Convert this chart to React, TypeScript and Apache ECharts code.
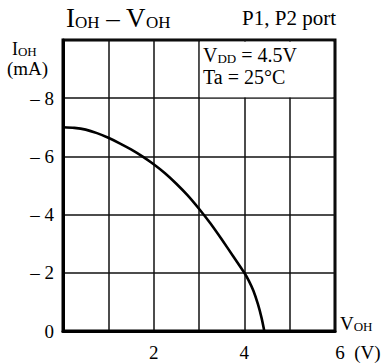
import React, { useEffect, useRef } from 'react';
import * as echarts from 'echarts';

const vohValues = [0, 0.25, 0.5, 0.75, 1, 1.25, 1.5, 1.75, 2, 2.25, 2.5, 2.75, 3, 3.25, 3.5, 3.75, 4, 4.1, 4.2, 4.3, 4.38, 4.44];
const iohValues = [-7.0, -6.98, -6.92, -6.8, -6.64, -6.45, -6.24, -6.0, -5.73, -5.42, -5.06, -4.66, -4.2, -3.7, -3.15, -2.58, -2.0, -1.72, -1.38, -0.92, -0.45, 0];
const xTickLabels: Record<number, string> = { 2: '2', 4: '4', 6: '6  (V)' };
const yTickLabels: Record<number, string> = { 0: '0', [-2]: '– 2', [-4]: '– 4', [-6]: '– 6', [-8]: '– 8' };
const boxFrom = [3.02, -9.94];
const boxTo = [5.95, -8.03];
const titleMain = ['I', 'OH', ' – V', 'OH'];
const subtitle = 'P1, P2 port';
const condLines = ['V', 'DD', ' = 4.5V', 'Ta = 25°C'];

const FONT = '"Liberation Serif", "DejaVu Serif", serif';

export default function App() {
  const ref = useRef<HTMLDivElement>(null);
  useEffect(() => {
    if (!ref.current) return;
    const chart = echarts.init(ref.current, undefined, { renderer: 'svg' });
    const sub = (big: number, small: number) => ({
      b: { fontSize: big, fontFamily: FONT, color: '#000', verticalAlign: 'bottom', lineHeight: big },
      s: { fontSize: small, fontFamily: FONT, color: '#000', verticalAlign: 'bottom', lineHeight: big },
    });
    chart.setOption({
      animation: false,
      backgroundColor: '#fff',
      grid: { left: 63, right: 49, top: 40, bottom: 33, show: true, borderColor: '#000', borderWidth: 3 },
      xAxis: {
        type: 'value', min: 0, max: 6, interval: 1,
        axisLine: { show: true, lineStyle: { color: '#000', width: 3 } },
        axisTick: { show: false },
        splitLine: { show: true, lineStyle: { color: '#111', width: 1.5 } },
        axisLabel: {
          margin: 12, fontSize: 19, color: '#000', fontFamily: FONT,
          formatter: (v: number) => (v === 6 ? '{r|' + xTickLabels[6] + '}' : (xTickLabels[v] ?? '')),
          rich: { r: { fontSize: 19, fontFamily: FONT, color: '#000', padding: [0, 0, 0, 46] } },
        },
      },
      yAxis: {
        type: 'value', inverse: true, min: -10, max: 0, interval: 2,
        axisLine: { show: true, lineStyle: { color: '#000', width: 3 } },
        axisTick: { show: false },
        splitLine: { show: true, lineStyle: { color: '#111', width: 1.5 } },
        axisLabel: {
          margin: 9, fontSize: 19, color: '#000', fontFamily: FONT,
          formatter: (v: number) => yTickLabels[v] ?? '',
        },
      },
      series: [
        {
          type: 'line',
          data: vohValues.map((x, i) => [x, iohValues[i]]),
          smooth: 0.25,
          symbol: 'none',
          lineStyle: { color: '#000', width: 2.6 },
          markArea: {
            silent: true,
            itemStyle: { color: '#fff' },
            label: { show: false },
            data: [[{ xAxis: boxFrom[0], yAxis: boxFrom[1] }, { xAxis: boxTo[0], yAxis: boxTo[1] }]],
          },
        },
      ],
      graphic: [
        {
          type: 'text', left: 66, top: 4, z: 100,
          style: { text: `{b|${titleMain[0]}}{s|${titleMain[1]}}{b|${titleMain[2]}}{s|${titleMain[3]}}`, rich: sub(27, 17) },
        },
        {
          type: 'text', right: 48, top: 7, z: 100,
          style: { text: subtitle, fontSize: 21, fontFamily: FONT, fill: '#000' },
        },
        {
          type: 'text', left: 12, top: 40, z: 100,
          style: { text: '{b|I}{s|OH}', rich: sub(18, 13) },
        },
        {
          type: 'text', left: 7, top: 59, z: 100,
          style: { text: '(mA)', fontSize: 19, fontFamily: FONT, fill: '#000' },
        },
        {
          type: 'text', left: 340, top: 314, z: 100,
          style: { text: '{b|V}{s|OH}', rich: sub(19, 13) },
        },
        {
          type: 'text', left: 203, top: 45, z: 100,
          style: { text: `{b|${condLines[0]}}{s|${condLines[1]}}{b|${condLines[2]}}`, rich: sub(20, 13) },
        },
        {
          type: 'text', left: 203, top: 67, z: 100,
          style: { text: condLines[3], fontSize: 20, fontFamily: FONT, fill: '#000' },
        },
      ],
    });
    return () => chart.dispose();
  }, []);
  return <div ref={ref} style={{ width: 384, height: 364, position: 'absolute', left: 0, top: 0 }} />;
}
